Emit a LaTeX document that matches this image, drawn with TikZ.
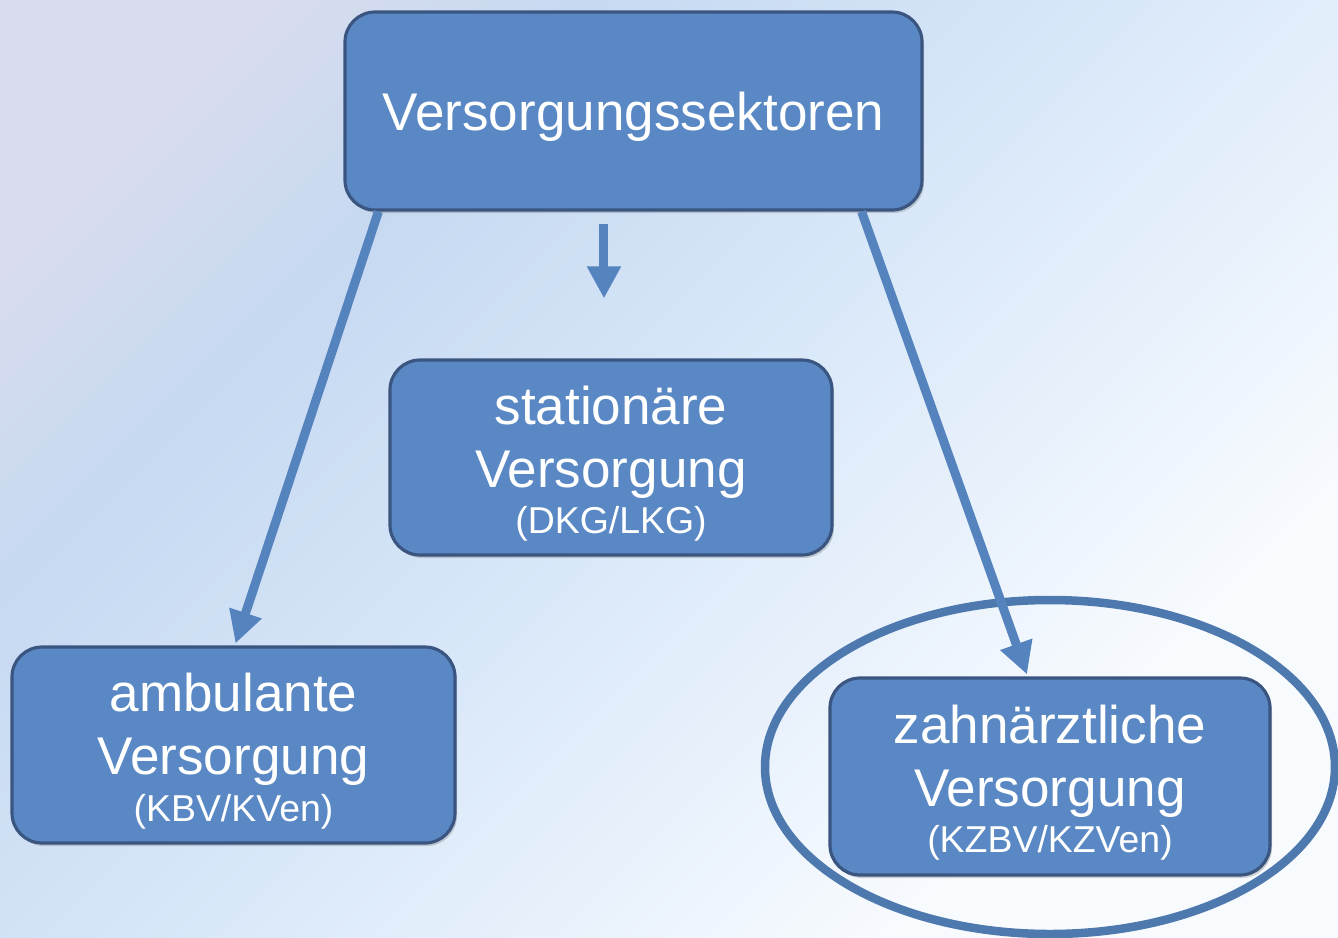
\documentclass[tikz,border=0pt]{standalone}
\usepackage{fontspec}
\setmainfont{Liberation Sans}
\usetikzlibrary{arrows.meta,shadows}
\definecolor{boxblue}{HTML}{5A88C4}
\definecolor{boxedge}{HTML}{3A5680}
\definecolor{arrblue}{HTML}{5583BE}
\definecolor{bgA}{HTML}{D8DCEE}
\definecolor{bgB}{HTML}{C6D9F1}
\definecolor{bgC}{HTML}{D9E8F9}
\definecolor{bgD}{HTML}{F8FBFE}
\pgfdeclarehorizontalshading{hinter}{100bp}{color(0bp)=(bgA); color(23bp)=(bgA);
	color(33bp)=(bgB); color(50bp)=(bgC); color(72bp)=(bgD); color(100bp)=(bgD)}
\newcommand{\gross}{\fontsize{15.1}{17.9}\selectfont}
\newcommand{\klein}{\fontsize{10.65}{12.6}\selectfont}
\newcommand{\oben}{\rule{0pt}{14.4pt}}
\begin{document}
\begin{tikzpicture}[line join=round, line cap=round,
	sektor/.style={draw=boxedge, line width=0.9pt, fill=boxblue, rounded corners=0.3cm,
		text=white, align=center, font=\gross, inner sep=0pt,
		drop shadow={shadow xshift=0.02cm, shadow yshift=-0.03cm, opacity=0.35}},
	pfeil/.style={arrblue, line width=0.09cm, line cap=butt,
		-{Triangle[width=0.32cm,length=0.32cm]}},
	ring/.style={draw=arrblue!92!black, line width=0.085cm}]
	\shade[shading=hinter, shading angle=-45] (0,0) rectangle (13.38,-9.37);
	\useasboundingbox (0,0) rectangle (13.38,-9.37);
	% Kaesten
	\node[sektor, minimum width=5.77cm, minimum height=1.98cm] (top) at (6.335,-1.11) {\oben Versorgungssektoren};
	\node[sektor, minimum width=4.42cm, minimum height=1.95cm] (stat) at (6.11,-4.575)
		{\oben stationäre\\Versorgung\\[-4.6pt]{\klein (DKG/LKG)}};
	\node[sektor, minimum width=4.43cm, minimum height=1.96cm] (amb) at (2.335,-7.45)
		{\oben ambulante\\Versorgung\\[-4.6pt]{\klein (KBV/KVen)}};
	\node[sektor, minimum width=4.40cm, minimum height=1.97cm] (zahn) at (10.50,-7.765)
		{\oben zahnärztliche\\Versorgung\\[-4.6pt]{\klein (KZBV/KZVen)}};
	\draw[ring] ([yshift=0.095cm]zahn.center) ellipse [x radius=2.85, y radius=1.67];
	% Pfeile
	\coordinate (mid) at (6.04,0);
	\draw[pfeil] ([xshift=0.35cm]top.south west) -- ([xshift=0.02cm,yshift=0.02cm]amb.north);
	\draw[pfeil] ([xshift=-0.62cm]top.south east) -- ([xshift=-0.23cm,yshift=0.02cm]zahn.north);
	\draw[pfeil, shorten <=0.12cm, shorten >=0.6cm] (top.south -| mid) -- (stat.north -| mid);
\end{tikzpicture}
\end{document}
